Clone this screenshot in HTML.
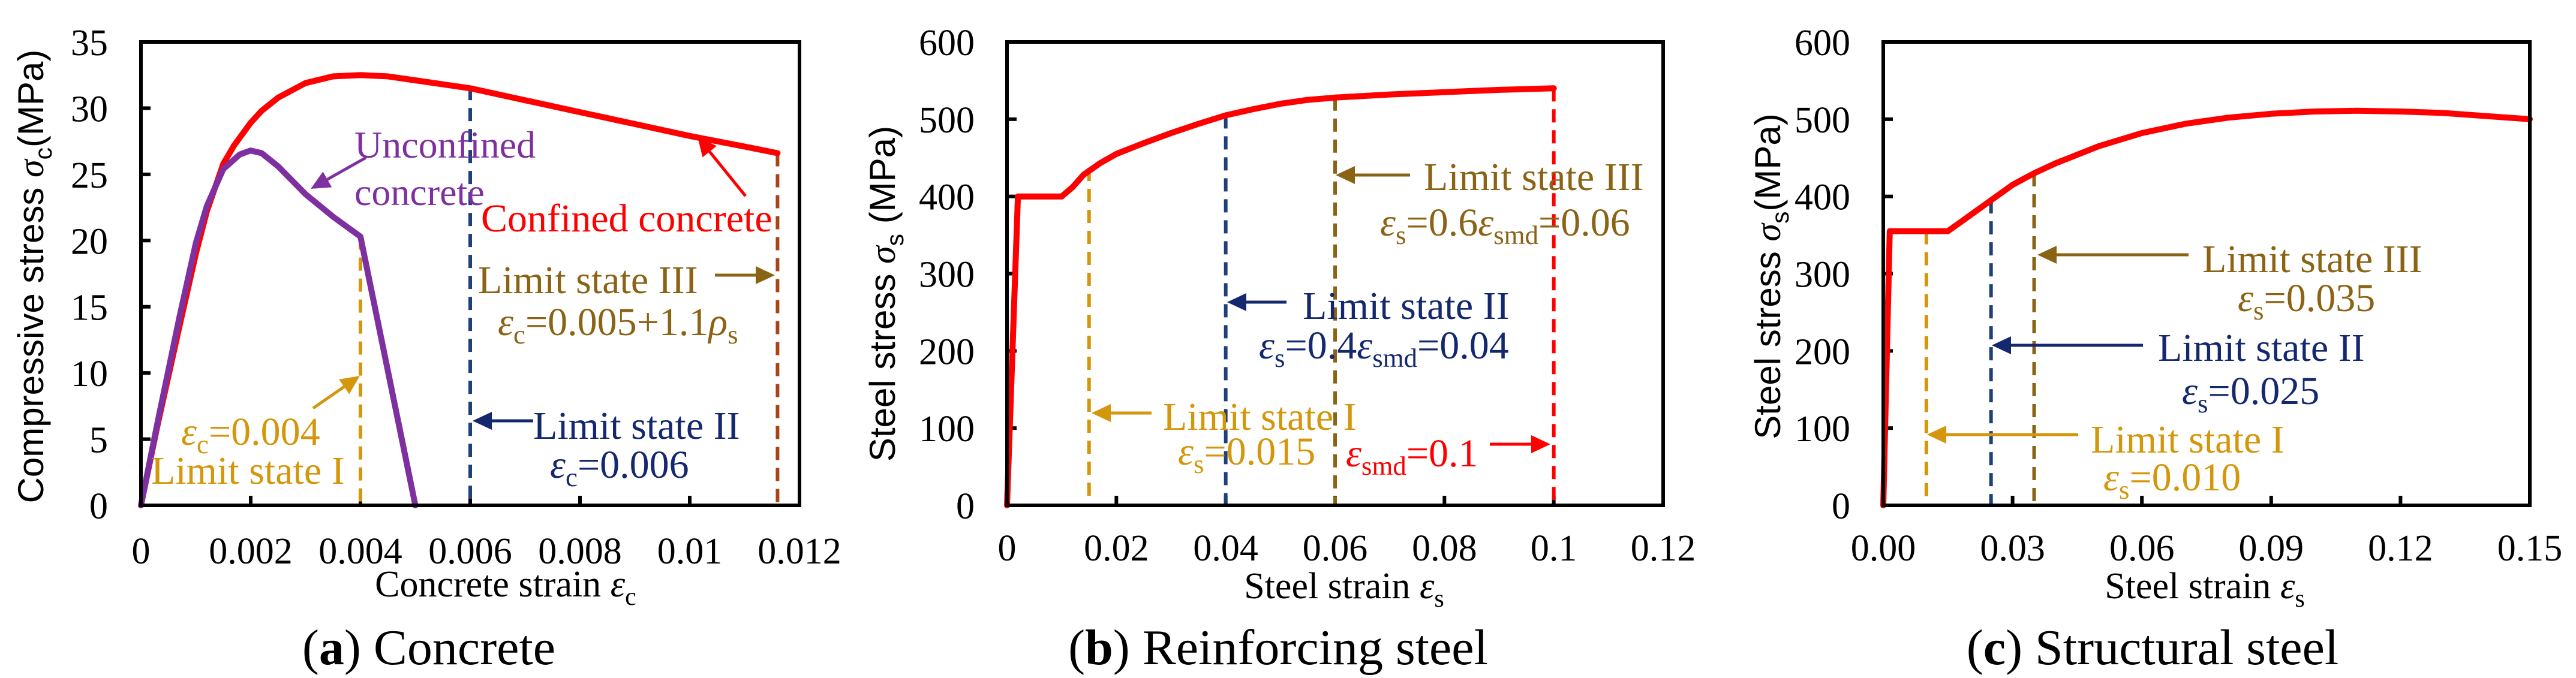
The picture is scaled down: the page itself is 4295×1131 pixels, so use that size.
<!DOCTYPE html>
<html><head><meta charset="utf-8"><style>
html,body{margin:0;padding:0;background:#fff;}
svg{display:block;}
text{font-family:"Liberation Serif",serif;}
.sans{font-family:"Liberation Sans",sans-serif;}
</style></head><body>
<svg id="fig" width="4295" height="1131" viewBox="0 0 4295 1131" xmlns="http://www.w3.org/2000/svg"></svg>
<script>
// ---- Panel (a) data ----
const aXTicks = [0, 0.002, 0.004, 0.006, 0.008, 0.01, 0.012];
const aXTickLabels = ["0","0.002","0.004","0.006","0.008","0.01","0.012"];
const aYTicks = [0,5,10,15,20,25,30,35];
const aConfinedStrain = [0,0.0003,0.0007,0.001,0.0012,0.0015,0.0017,0.002,0.0022,0.0025,0.003,0.0035,0.004,0.0045,0.005,0.006,0.007,0.008,0.009,0.01,0.011,0.0116];
const aConfinedStress = [0,6,13.5,19,22.2,25.8,27.2,28.9,29.8,30.8,31.9,32.4,32.5,32.4,32.1,31.5,30.6,29.7,28.8,27.9,27.1,26.6];
const aUnconfStrain = [0,0.0003,0.0007,0.001,0.0012,0.0015,0.0018,0.002,0.0022,0.0025,0.003,0.0035,0.004,0.005];
const aUnconfStress = [0,6.2,14.2,19.8,22.6,25.4,26.5,26.8,26.6,25.6,23.5,21.8,20.3,0];
const aLimits = [0.004, 0.006, 0.0116];
const aLimitTops = [20.3, 31.6, 26.6];
// ---- Panel (b) data ----
const bXTicks = [0,0.02,0.04,0.06,0.08,0.1,0.12];
const bXTickLabels = ["0","0.02","0.04","0.06","0.08","0.1","0.12"];
const bYTicks = [0,100,200,300,400,500,600];
const bStrain = [0,0.002,0.01,0.012,0.014,0.017,0.02,0.025,0.03,0.035,0.04,0.045,0.05,0.055,0.06,0.07,0.08,0.09,0.1];
const bStress = [0,400,400,412,428,443,455,469,482,494,505,513,520,525,528,532,535,538,540];
const bLimits = [0.015,0.04,0.06,0.1];
const bLimitTops = [437,505,528,540];
// ---- Panel (c) data ----
const cXTicks = [0,0.03,0.06,0.09,0.12,0.15];
const cXTickLabels = ["0.00","0.03","0.06","0.09","0.12","0.15"];
const cYTicks = [0,100,200,300,400,500,600];
const cStrain = [0,0.0015,0.015,0.02,0.025,0.03,0.035,0.04,0.05,0.06,0.07,0.08,0.09,0.1,0.11,0.12,0.13,0.14,0.15];
const cStress = [0,355,355,375,395,415,430,443,465,482,494,502,507,510,511,510,508,504,500];
const cLimits = [0.01,0.025,0.035];
const cLimitTops = [355,395,430];

const NS="http://www.w3.org/2000/svg";
const svg=document.getElementById('fig');
const RED="#ff0000",PUR="#7f30a0",ORG="#d4960a",NAV="#1f3f78",NAVT="#13286e",BRN="#8b6314",DRD="#a94418";
function mk(tag,attrs,parent){const e=document.createElementNS(NS,tag);for(const k in attrs)e.setAttribute(k,attrs[k]);(parent||svg).appendChild(e);return e;}
function lin(d0,d1,p0,p1){return v=>p0+(v-d0)/(d1-d0)*(p1-p0);}

function axes(name,L,R,T,B,xs,ys,xT,xL,yT,yLabX,tlx){
  const g=mk('g',{});
  
  
  xT.forEach((t,i)=>{const x=xs(t);
    const tk=mk('line',{x1:x,x2:x,y1:B,y2:B-16,stroke:'#000','stroke-width':6},g);
    
    
    const tl=mk('text',{x:x,y:tlx,'font-size':62,'text-anchor':'middle'},g);tl.textContent=xL[i];
    
    });
  yT.forEach(t=>{const y=ys(t);
    const tk=mk('line',{x1:L,x2:L+16,y1:y,y2:y,stroke:'#000','stroke-width':6},g);
    
    
    const tl=mk('text',{x:yLabX,y:y+22,'font-size':62,'text-anchor':'end'},g);tl.textContent=String(t);
    
    });
}
function box(name,L,R,T,B){const r=mk('rect',{x:L,y:T,width:R-L,height:B-T,fill:'none',stroke:'#000','stroke-width':6});
  
  }
function curve(name,xs,ys,X,Y,col,w){const d=X.map((v,i)=>(i?'L':'M')+xs(v).toFixed(1)+' '+ys(Y[i]).toFixed(1)).join(' ');
  const p=mk('path',{d:d,fill:'none',stroke:col,'stroke-width':w||10,'stroke-linejoin':'round','stroke-linecap':'round'});
  
  }
function dashed(name,xs,ys,x,top,col){const l=mk('line',{x1:xs(x),x2:xs(x),y1:ys(top),y2:ys(0),stroke:col,'stroke-width':6,'stroke-dasharray':'22 13'});
  
  }
function arrow(name,x1,y1,x2,y2,col){const g=mk('g',{});
  
  
  const a=Math.atan2(y2-y1,x2-x1),h=32,w=15;
  const bx=x2-h*Math.cos(a),by=y2-h*Math.sin(a);
  mk('line',{x1:x1,y1:y1,x2:bx,y2:by,stroke:col,'stroke-width':5},g);
  const p=[[x2,y2],[bx+w*Math.sin(a),by-w*Math.cos(a)],[bx-w*Math.sin(a),by+w*Math.cos(a)]];
  mk('polygon',{points:p.map(q=>q.join(',')).join(' '),fill:col},g);}
function txt(name,x,y,html,col,size,anchor,cls){const t=mk('text',{x:x,y:y,fill:col||'#000','font-size':size||66,'text-anchor':anchor||'start'});
  if(cls)t.setAttribute('class',cls);
  t.innerHTML=html;
  
  return t;}
const E='<tspan font-style="italic">ε</tspan>';
function sub(s,d){d=d||14;return '<tspan font-size="0.68em" dy="'+d+'">'+s+'</tspan><tspan dy="-'+d+'">\u200b</tspan>';}

// ===== Panel (a) =====
(function(){
 const L=235,R=1333,T=70,B=843;const xs=lin(0,0.012,L,R),ys=lin(0,35,B,T);
 axes('concrete',L,R,T,B,xs,ys,aXTicks,aXTickLabels,aYTicks,180,940);
 const cols=[ORG,NAV,DRD];const nm=['limit-1','limit-2','limit-3'];
 aLimits.forEach((v,i)=>dashed('concrete-'+nm[i]+'-line',xs,ys,v,aLimitTops[i],cols[i]));
 curve('confined-concrete-curve',xs,ys,aConfinedStrain,aConfinedStress,RED,10);
 curve('unconfined-concrete-curve',xs,ys,aUnconfStrain,aUnconfStress,PUR,10);
 box('concrete',L,R,T,B);
 txt('unconfined-label',591,263,'Unconfined',PUR,64);
 txt('unconfined-label-2',591,342,'concrete',PUR,64);
 arrow('unconfined-arrow',610,263,518,315,PUR);
 txt('confined-label',802,386,'Confined concrete',RED,66);
 arrow('confined-arrow',1243,327,1163,228,RED);
 txt('concrete-limit3-label',797,489,'Limit state III',BRN,66);
 txt('concrete-limit3-eq',830,559,E+sub('c')+'=0.005+1.1<tspan font-style="italic">ρ</tspan>'+sub('s'),BRN,66);
 arrow('concrete-limit3-arrow',1192,459,1292,459,BRN);
 txt('concrete-limit2-label',889,732,'Limit state II',NAVT,66);
 txt('concrete-limit2-eq',917,797,E+sub('c')+'=0.006',NAVT,66);
 arrow('concrete-limit2-arrow',889,702,788,702,NAVT);
 txt('concrete-limit1-eq',302,742,E+sub('c')+'=0.004',ORG,66);
 txt('concrete-limit1-label',252,807,'Limit state I',ORG,66);
 arrow('concrete-limit1-arrow',522,681,600,627,ORG);
 txt('concrete-x-title',843,995,'Concrete strain '+E+sub('c'),'#000',62,'middle');
 const yt=txt('concrete-y-title',0,0,'Compressive stress  <tspan font-family="Liberation Serif" font-style="italic">σ</tspan><tspan font-size="0.68em" dy="14">c</tspan><tspan dy="-14">(MPa)</tspan>','#000',60,'middle','sans');
 yt.setAttribute('transform','translate(72,461) rotate(-90)');
 txt('concrete-caption',715,1108,'(<tspan font-weight="bold">a</tspan>) Concrete','#000',84,'middle');
})();

// ===== Panel (b) =====
(function(){
 const L=1679,R=2773,T=70,B=843;const xs=lin(0,0.12,L,R),ys=lin(0,600,B,T);
 axes('reinforcing',L,R,T,B,xs,ys,bXTicks,bXTickLabels,bYTicks,1625,935);
 const cols=[ORG,NAV,BRN,RED];const nm=['limit-1','limit-2','limit-3','smd'];
 bLimits.forEach((v,i)=>dashed('reinforcing-'+nm[i]+'-line',xs,ys,v,bLimitTops[i],cols[i]));
 curve('reinforcing-steel-curve',xs,ys,bStrain,bStress,RED,10);
 box('reinforcing',L,R,T,B);
 txt('reinforcing-limit3-label',2374,317,'Limit state III',BRN,66);
 txt('reinforcing-limit3-eq',2301,393,E+sub('s')+'=0.6'+E+sub('smd')+'=0.06',BRN,66);
 arrow('reinforcing-limit3-arrow',2351,292,2227,292,BRN);
 txt('reinforcing-limit2-label',2172,532,'Limit state II',NAVT,66);
 txt('reinforcing-limit2-eq',2099,598,E+sub('s')+'=0.4'+E+sub('smd')+'=0.04',NAVT,66);
 arrow('reinforcing-limit2-arrow',2145,504,2046,504,NAVT);
 txt('reinforcing-limit1-label',1939,717,'Limit state I',ORG,66);
 txt('reinforcing-limit1-eq',1964,775,E+sub('s')+'=0.015',ORG,66);
 arrow('reinforcing-limit1-arrow',1920,689,1820,689,ORG);
 txt('reinforcing-smd-eq',2244,778,E+sub('smd')+'=0.1',RED,66);
 arrow('reinforcing-smd-arrow',2484,741,2585,741,RED);
 txt('reinforcing-x-title',2241,998,'Steel strain '+E+sub('s'),'#000',62,'middle');
 const yt=txt('reinforcing-y-title',0,0,'Steel stress <tspan font-family="Liberation Serif" font-style="italic">σ</tspan><tspan font-size="0.68em" dy="14">s</tspan><tspan dy="-14"> (MPa)</tspan>','#000',60,'middle','sans');
 yt.setAttribute('transform','translate(1492,490) rotate(-90)');
 txt('reinforcing-caption',2131,1108,'(<tspan font-weight="bold">b</tspan>) Reinforcing steel','#000',84,'middle');
})();

// ===== Panel (c) =====
(function(){
 const L=3140,R=4218,T=70,B=843;const xs=lin(0,0.15,L,R),ys=lin(0,600,B,T);
 axes('structural',L,R,T,B,xs,ys,cXTicks,cXTickLabels,cYTicks,3085,935);
 const cols=[ORG,NAV,BRN];const nm=['limit-1','limit-2','limit-3'];
 cLimits.forEach((v,i)=>dashed('structural-'+nm[i]+'-line',xs,ys,v,cLimitTops[i],cols[i]));
 curve('structural-steel-curve',xs,ys,cStrain,cStress,RED,10);
 box('structural',L,R,T,B);
 txt('structural-limit3-label',3672,454,'Limit state III',BRN,66);
 txt('structural-limit3-eq',3731,519,E+sub('s')+'=0.035',BRN,66);
 arrow('structural-limit3-arrow',3649,425,3397,425,BRN);
 txt('structural-limit2-label',3598,602,'Limit state II',NAVT,66);
 txt('structural-limit2-eq',3638,674,E+sub('s')+'=0.025',NAVT,66);
 arrow('structural-limit2-arrow',3573,576,3321,576,NAVT);
 txt('structural-limit1-label',3486,755,'Limit state I',ORG,66);
 txt('structural-limit1-eq',3507,818,E+sub('s')+'=0.010',ORG,66);
 arrow('structural-limit1-arrow',3465,725,3213,725,ORG);
 txt('structural-x-title',3676,998,'Steel strain '+E+sub('s'),'#000',62,'middle');
 const yt=txt('structural-y-title',0,0,'Steel stress <tspan font-family="Liberation Serif" font-style="italic">σ</tspan><tspan font-size="0.68em" dy="14">s</tspan><tspan dy="-14">(MPa)</tspan>','#000',60,'middle','sans');
 yt.setAttribute('transform','translate(2968,461) rotate(-90)');
 txt('structural-caption',3589,1108,'(<tspan font-weight="bold">c</tspan>) Structural steel','#000',84,'middle');
})();
</script>
</body></html>
